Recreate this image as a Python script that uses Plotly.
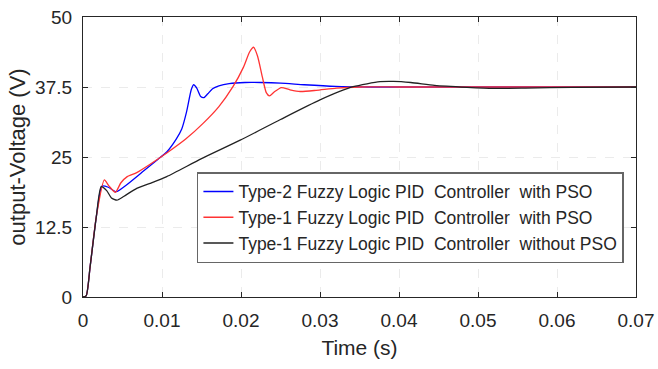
import plotly.graph_objects as go

# Hand-read samples (time in s, voltage in V)
t_blue = [0, 0.0004, 0.0009, 0.0017, 0.0024, 0.0032, 0.0042, 0.0055, 0.0075, 0.0095, 0.0106,
          0.0118, 0.0125, 0.0131, 0.0137, 0.0140, 0.0144, 0.0149, 0.0153, 0.0158, 0.0164, 0.0172,
          0.0185, 0.0205, 0.0225, 0.025, 0.028, 0.032, 0.036, 0.04, 0.05, 0.06, 0.07]
v_blue = [0, 0.2, 5.4, 14.5, 19.8, 19.6, 18.8, 20.0, 22.3, 24.6, 25.9,
          28.2, 30.0, 33.0, 37.0, 37.9, 37.3, 35.8, 35.6, 36.3, 37.2, 37.7,
          38.1, 38.3, 38.3, 38.2, 37.9, 37.6, 37.5, 37.5, 37.5, 37.5, 37.5]

t_red = [0, 0.0004, 0.0009, 0.0017, 0.0027, 0.0033, 0.0041, 0.0048, 0.0056, 0.0068, 0.0085,
         0.0106, 0.013, 0.0152, 0.0172, 0.019, 0.0203, 0.0211, 0.0216, 0.0221, 0.0227, 0.0232,
         0.0236, 0.0242, 0.0251, 0.0262, 0.0275, 0.0295, 0.0321, 0.035, 0.04, 0.05, 0.06, 0.07]
v_red = [0, 0.2, 5.4, 14.5, 20.9, 19.8, 18.7, 20.4, 21.5, 22.2, 23.7,
         25.7, 28.2, 31.0, 34.0, 37.6, 41.0, 43.8, 44.6, 43.0, 39.3, 36.5,
         35.9, 36.6, 37.4, 37.0, 36.7, 36.9, 37.3, 37.5, 37.5, 37.5, 37.5, 37.5]

t_black = [0, 0.0004, 0.0009, 0.0017, 0.0023, 0.003, 0.0036, 0.0043, 0.0052, 0.0068, 0.0085,
           0.0106, 0.0150, 0.0199, 0.025, 0.030, 0.0342, 0.0376, 0.0393, 0.0415, 0.0445,
           0.0486, 0.052, 0.056, 0.062, 0.07]
v_black = [0, 0.2, 5.4, 14.5, 19.7, 19.0, 17.7, 17.3, 18.0, 19.4, 20.3,
           21.5, 24.7, 28.0, 31.7, 35.2, 37.55, 38.45, 38.5, 38.3, 37.8,
           37.45, 37.25, 37.3, 37.45, 37.5]

series_names = [
    "Type-2 Fuzzy Logic PID  Controller  with PSO",
    "Type-1 Fuzzy Logic PID  Controller  with PSO",
    "Type-1 Fuzzy Logic PID  Controller  without PSO",
]
series_colors = ["#0000FF", "#FF3333", "#222222"]

x_ticks = [0, 0.01, 0.02, 0.03, 0.04, 0.05, 0.06, 0.07]
x_ticklabels = ["0", "0.01", "0.02", "0.03", "0.04", "0.05", "0.06", "0.07"]
y_ticks = [0, 12.5, 25, 37.5, 50]
y_ticklabels = ["0", "12.5", "25", "37.5", "50"]

fig = go.Figure()
for tx, vy, name, col in zip([t_blue, t_red, t_black], [v_blue, v_red, v_black],
                             series_names, series_colors):
    fig.add_trace(go.Scatter(x=tx, y=vy, mode="lines", name=name,
                             line=dict(color=col, width=1.3, shape="spline", smoothing=0.6)))

font_fam = "Liberation Sans, Arial, sans-serif"
fig.update_layout(
    width=658, height=369,
    margin=dict(l=83, r=22, t=17, b=72, autoexpand=False),
    paper_bgcolor="white", plot_bgcolor="white",
    font=dict(family=font_fam, size=18, color="#262626"),
    showlegend=True,
    legend=dict(x=0.206, y=0.446, xanchor="left", yanchor="top",
                bgcolor="white", bordercolor="#666666", borderwidth=1.5,
                font=dict(size=17.5, color="#262626"), tracegroupgap=0,
                itemwidth=30),
)
fig.update_xaxes(range=[0, 0.07], tickvals=x_ticks, ticktext=x_ticklabels,
                 automargin=False,
                 showgrid=True, gridcolor="#ebebeb", griddash="dash", gridwidth=1,
                 showline=True, linecolor="#262626", linewidth=1.2, mirror="ticks",
                 ticks="inside", ticklen=5, tickcolor="#262626",
                 zeroline=False, tickfont=dict(size=19), ticklabelstandoff=6,
                 title=dict(text="Time (s)", font=dict(size=21), standoff=10))
fig.update_yaxes(range=[0, 50], tickvals=y_ticks, ticktext=y_ticklabels,
                 automargin=False,
                 showgrid=True, gridcolor="#ebebeb", griddash="dash", gridwidth=1,
                 showline=True, linecolor="#262626", linewidth=1.2, mirror="ticks",
                 ticks="inside", ticklen=5, tickcolor="#262626",
                 zeroline=False, tickfont=dict(size=19), ticklabelstandoff=6,
                 title=dict(text="output-Voltage (V)", font=dict(size=22), standoff=3))

fig.write_html("out.html", config={"displayModeBar": False},
               post_script="document.body.style.margin='0';document.body.style.overflow='hidden';")
